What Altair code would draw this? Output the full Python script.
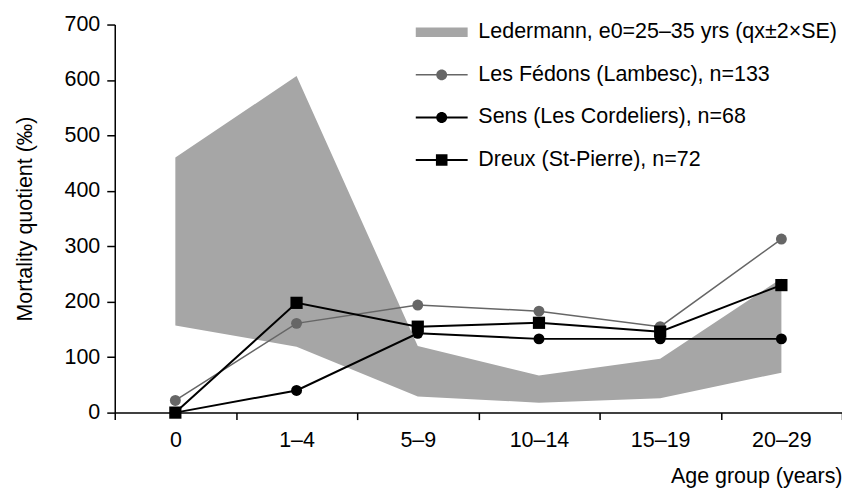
import altair as alt
import pandas as pd

age_groups = ["0", "1–4", "5–9", "10–14", "15–19", "20–29"]
ledermann_low = [157, 119, 29, 18, 26, 72]
ledermann_high = [460, 607, 120, 67, 97, 242]
fedons = [22, 161, 194, 183, 155, 313]
sens = [0, 40, 143, 133, 133, 133]
dreux = [0, 198, 155, 162, 146, 230]

series_names = [
    "Ledermann, e0=25–35 yrs (qx±2×SE)",
    "Les Fédons (Lambesc), n=133",
    "Sens (Les Cordeliers), n=68",
    "Dreux (St-Pierre), n=72",
]
series_colors = ["#a6a6a6", "#666666", "#000000", "#000000"]

FONT = "Liberation Sans"
FS = 21.5

line_thin = "M-2.6,-0.075H2.6V0.075H-2.6Z"
line_thick = "M-2.6,-0.1H2.6V0.1H-2.6Z"
circ = "M-0.55,0A0.55,0.55 0 1,1 0.55,0A0.55,0.55 0 1,1 -0.55,0Z"
sq = "M-0.58,-0.58H0.58V0.58H-0.58Z"
legend_shapes = [
    "M-2.6,-0.47H2.6V0.47H-2.6Z",
    line_thin + circ,
    line_thick + circ,
    line_thick + sq,
]

band_df = pd.DataFrame({"age": age_groups, "low": ledermann_low, "high": ledermann_high})

x_enc = alt.X(
    "age:N",
    sort=age_groups,
    bandPosition=0.5,
    scale=alt.Scale(type="band", domain=age_groups, paddingInner=0, paddingOuter=0),
    axis=alt.Axis(
        title="Age group (years)",
        titleAnchor="end",
        titlePadding=15,
        labelAngle=0,
        tickBand="extent",
        labelPadding=10,
        tickSize=7,
    ),
)
y_scale = alt.Scale(domain=[0, 700], nice=False)
y_axis = alt.Axis(
    title="Mortality quotient (‰)",
    values=[0, 100, 200, 300, 400, 500, 600, 700],
    tickSize=8,
    labelPadding=7,
    titlePadding=28,
    grid=False,
)

band = alt.Chart(band_df).mark_area(color="#a6a6a6", opacity=1).encode(
    x=x_enc,
    y=alt.Y("low:Q", scale=y_scale, axis=y_axis),
    y2="high:Q",
)

layers = [band]
specs = [
    (series_names[1], fedons, "#666666", "circle", 120, 1.5),
    (series_names[2], sens, "#000000", "circle", 120, 2),
    (series_names[3], dreux, "#000000", "square", 150, 2),
]
for name, vals, col, shp, sz, sw in specs:
    df = pd.DataFrame({"age": age_groups, "value": vals, "series": name})
    base = alt.Chart(df).encode(
        x=alt.X("age:N", sort=age_groups, bandPosition=0.5),
        y=alt.Y("value:Q", scale=y_scale),
    )
    layers.append(base.mark_line(color=col, strokeWidth=sw))
    layers.append(base.mark_point(color=col, filled=True, shape=shp, size=sz, opacity=1))

legend_df = pd.DataFrame({"series": series_names, "age": ["0"] * 4, "value": [0] * 4})
leg = alt.Legend(
    title=None,
    orient="none",
    legendX=317,
    legendY=-3,
    labelFontSize=FS,
    labelFont=FONT,
    labelColor="#000000",
    symbolSize=400,
    symbolStrokeWidth=0,
    symbolOpacity=1,
    labelOffset=26,
    rowPadding=19.7,
    padding=0,
    labelLimit=500,
)
legend_layer = alt.Chart(legend_df).mark_point(filled=True, opacity=0).encode(
    x=alt.X("age:N", sort=age_groups, bandPosition=0.5),
    y=alt.Y("value:Q", scale=y_scale),
    color=alt.Color("series:N", scale=alt.Scale(domain=series_names, range=series_colors), legend=leg),
    shape=alt.Shape("series:N", scale=alt.Scale(domain=series_names, range=legend_shapes), legend=leg),
)
layers.append(legend_layer)

chart = alt.layer(*layers).properties(
    width=729,
    height=389,
    padding={"left": 107, "top": 16, "right": 0, "bottom": 78},
    autosize=alt.AutoSizeParams(type="none"),
).configure_view(
    stroke=None
).configure_axis(
    labelFont=FONT,
    titleFont=FONT,
    labelFontSize=FS,
    titleFontSize=FS,
    titleFontWeight="normal",
    labelColor="#000000",
    titleColor="#000000",
    domainColor="#000000",
    tickColor="#000000",
    domainWidth=1.5,
    tickWidth=1.5,
    grid=False,
)

chart = chart.properties(background="white")
chart.save("out.html", embed_options={"renderer": "svg", "actions": False})
